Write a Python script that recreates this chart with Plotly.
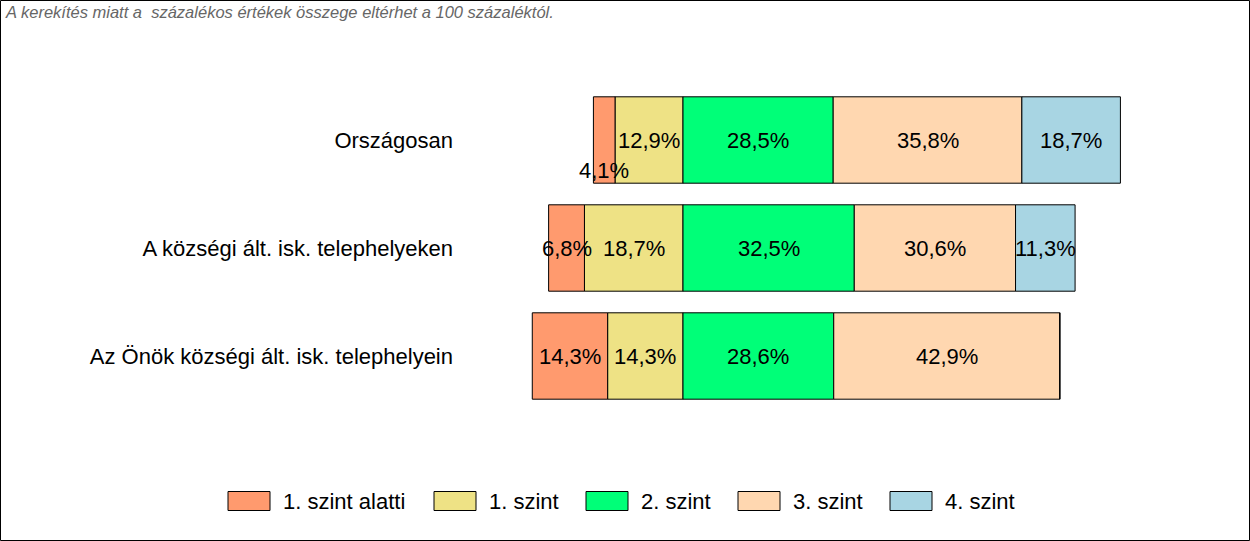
import plotly.graph_objects as go

categories = ["Országosan", "A községi ált. isk. telephelyeken", "Az Önök községi ált. isk. telephelyein"]
levels = ["1. szint alatti", "1. szint", "2. szint", "3. szint", "4. szint"]
below1 = [4.1, 6.8, 14.3]
level1 = [12.9, 18.7, 14.3]
level2 = [28.5, 32.5, 28.6]
level3 = [35.8, 30.6, 42.9]
level4 = [18.7, 11.3, 0.0]
colors = ["#FF9A6E", "#EEE285", "#00FF78", "#FFD7B0", "#A8D5E3"]

FONT = "Liberation Sans, Arial, sans-serif"
FS = 22
series = [below1, level1, level2, level3, level4]

W, H = 1250, 541
L, R, T, B = 460, 20, 86, 131
pw, ph = W - L - R, H - T - B

def px2x(px):
    return (px - L) / pw

def px2y(py):
    return (H - py - B) / ph

fig = go.Figure()
neg_order = [1, 0]
pos_order = [2, 3, 4]
for i in neg_order + pos_order:
    sign = -1 if i in neg_order else 1
    fig.add_trace(go.Bar(
        y=categories, x=[sign * v for v in series[i]], name=levels[i], orientation="h",
        marker=dict(color=colors[i], line=dict(color="black", width=1)),
        hoverinfo="skip", showlegend=False,
    ))

def fmt(v):
    return f"{v:.1f}".replace(".", ",") + "%"

annotations = []
for ci, cat in enumerate(categories):
    cum = 0.0
    for i in neg_order:
        v = series[i][ci]
        center = -(cum + v / 2)
        cum += v
        if v > 0:
            annotations.append(dict(x=center, y=cat, xref="x", yref="y", text=fmt(v), showarrow=False,
                                    font=dict(family=FONT, size=FS, color="black"),
                                    yshift=-30 if v < 5 else 0))
    cum = 0.0
    for i in pos_order:
        v = series[i][ci]
        center = cum + v / 2
        cum += v
        if v > 0:
            annotations.append(dict(x=center, y=cat, xref="x", yref="y", text=fmt(v), showarrow=False,
                                    font=dict(family=FONT, size=FS, color="black")))

annotations.append(dict(x=px2x(3), y=px2y(1), xref="paper", yref="paper",
                        text="<i>A kerekítés miatt a  százalékos értékek összege eltérhet a 100 százaléktól.</i>",
                        showarrow=False, xanchor="left", yanchor="top",
                        font=dict(family=FONT, size=16.5, color="#666666")))

shapes = [dict(type="rect", xref="paper", yref="paper",
               x0=px2x(0.5), x1=px2x(W - 0.5), y0=px2y(H - 0.5), y1=px2y(0.5),
               line=dict(color="black", width=1), fillcolor="rgba(0,0,0,0)", layer="above")]

# custom legend (layout positions in pixels)
legend_swatch_x = [228, 434, 586, 738, 890]
legend_y = 501
sw_w, sw_h = 42, 19
for i, name in enumerate(levels):
    sx = legend_swatch_x[i]
    shapes.append(dict(type="rect", xref="paper", yref="paper",
                       x0=px2x(sx), x1=px2x(sx + sw_w),
                       y0=px2y(legend_y + sw_h / 2), y1=px2y(legend_y - sw_h / 2),
                       line=dict(color="black", width=1), fillcolor=colors[i]))
    annotations.append(dict(x=px2x(sx + sw_w + 11), y=px2y(legend_y), xref="paper", yref="paper",
                            text=name, showarrow=False, xanchor="left", yanchor="middle",
                            font=dict(family=FONT, size=FS, color="black")))

px_per = 5.27
x0 = -(683 - L) / px_per
x1 = x0 + pw / px_per

fig.update_layout(
    width=W, height=H, barmode="relative", bargap=0.2,
    margin=dict(l=L, r=R, t=T, b=B),
    paper_bgcolor="white", plot_bgcolor="white",
    font=dict(family=FONT, size=FS, color="black"),
    xaxis=dict(range=[x0, x1], visible=False, showgrid=False, zeroline=False),
    yaxis=dict(categoryorder="array", categoryarray=categories, autorange="reversed",
               showgrid=False, zeroline=False, showline=False, ticks="",
               tickfont=dict(family=FONT, size=FS, color="black"), ticklabelstandoff=6),
    showlegend=False,
    annotations=annotations,
    shapes=shapes,
)

fig.write_html("out.html", config={"displayModeBar": False},
               post_script="document.body.style.margin='0px';")
